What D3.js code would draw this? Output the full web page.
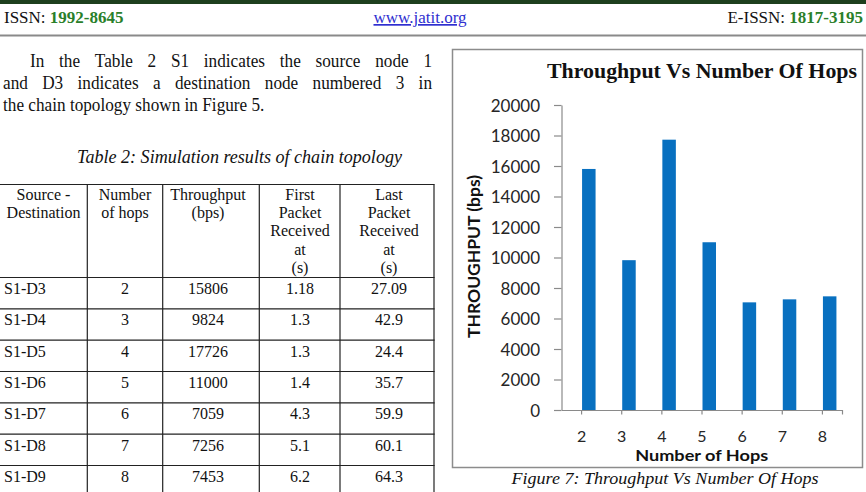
<!DOCTYPE html>
<html><head><meta charset="utf-8">
<script src="https://cdn.jsdelivr.net/npm/d3@7"></script>
<style>body{margin:0;background:#fff;overflow:hidden} svg{display:block}</style>
</head><body>
<svg id="page" width="866" height="492"></svg>
<script>
// ---------- data ----------
const pairs = ["S1-D3","S1-D4","S1-D5","S1-D6","S1-D7","S1-D8","S1-D9"];
const hops = ["2","3","4","5","6","7","8"];
const throughput = [15806, 9824, 17726, 11000, 7059, 7256, 7453];
const firstPacket = ["1.18","1.3","1.3","1.4","4.3","5.1","6.2"];
const lastPacket = ["27.09","42.9","24.4","35.7","59.9","60.1","64.3"];
const yTicks = [0,2000,4000,6000,8000,10000,12000,14000,16000,18000,20000];
const tableHeaders = [["Source -","Destination"],["Number","of hops"],["Throughput","(bps)"],
  ["First","Packet","Received","at","(s)"],["Last","Packet","Received","at","(s)"]];
const paragraph = ["In the Table 2 S1 indicates the source node 1",
  "and D3 indicates a destination node numbered 3 in",
  "the chain topology shown in Figure 5."];
const tableCaption = "Table 2: Simulation results of chain topology";
const chartTitle = "Throughput Vs Number Of Hops";
const figCaption = "Figure 7: Throughput Vs Number Of Hops";

const SERIF = "'Liberation Serif','Times New Roman',serif";
const SANS = "Lato,'Open Sans',sans-serif";
const svg = d3.select("#page");

// ---------- page header ----------
svg.append("rect").attr("x",0).attr("y",0).attr("width",866).attr("height",4).attr("fill","#1d3f1d");
const h1 = svg.append("text").attr("x",4).attr("y",23).attr("font-family",SERIF).attr("font-size",17);
h1.append("tspan").text("ISSN: ").attr("fill","#111");
h1.append("tspan").text("1992-8645").attr("font-weight","bold").attr("fill","#2a7f2a");
svg.append("text").attr("x",420).attr("y",23).attr("text-anchor","middle").attr("font-family",SERIF)
  .attr("font-size",17).attr("fill","#2f2fd0").attr("text-decoration","underline").text("www.jatit.org");
const h3 = svg.append("text").attr("x",863).attr("y",23).attr("text-anchor","end").attr("font-family",SERIF).attr("font-size",17);
h3.append("tspan").text("E-ISSN: ").attr("fill","#111");
h3.append("tspan").text("1817-3195").attr("font-weight","bold").attr("fill","#2a7f2a");
svg.append("line").attr("x1",0).attr("x2",866).attr("y1",35.5).attr("y2",35.5).attr("stroke","#8a8a8a").attr("stroke-width",2);

// ---------- paragraph (justified, slightly condensed like the scan) ----------
const PFS = 18.5, SQ = 0.93;
function measure(s){
  const t = svg.append("text").attr("font-family",SERIF).attr("font-size",PFS).text(s);
  const w = t.node().getComputedTextLength(); t.remove(); return w;
}
const spaceW = (measure("a a") - measure("aa"))*SQ;
const paraLines = [{x0:30,x1:432,y:67,just:true},{x0:3,x1:432,y:89,just:true},{x0:3,x1:432,y:111,just:false}];
paragraph.forEach((line,i)=>{
  const cfg = paraLines[i];
  const words = line.split(" ");
  const g = svg.append("g");
  const ws = words.map(w=>{
    const nat = measure(w)*SQ;
    const t = g.append("text").attr("font-family",SERIF).attr("font-size",PFS).attr("fill","#111").attr("y",cfg.y)
      .attr("textLength",nat).attr("lengthAdjust","spacingAndGlyphs").text(w);
    return {t, w: nat};
  });
  const total = d3.sum(ws,d=>d.w);
  const gap = cfg.just ? (cfg.x1-cfg.x0-total)/(words.length-1) : spaceW;
  let x = cfg.x0;
  ws.forEach(d=>{ d.t.attr("x",x); x += d.w + gap; });
});

svg.append("text").attr("x",239.5).attr("y",163).attr("text-anchor","middle").attr("font-family",SERIF)
  .attr("font-size",18.5).attr("font-style","italic").attr("fill","#111")
  .attr("textLength",325).attr("lengthAdjust","spacingAndGlyphs").text(tableCaption);

// ---------- table ----------
const colX = [0, 87.3, 162.7, 259.3, 340, 434];
const colCenters = [43.5, 125, 208, 300, 389];
const tTop = 184.5, headBottom = 277.5, rowH = 31.33;
const rowScale = d3.scaleLinear().domain([0, pairs.length]).range([headBottom, headBottom + rowH*pairs.length]);
const tbl = svg.append("g").attr("font-family",SERIF).attr("font-size",16).attr("fill","#111");
const hLines = [tTop].concat(d3.range(pairs.length+1).map(i=>rowScale(i)));
tbl.selectAll("line.h").data(hLines).join("line").attr("x1",0).attr("x2",colX[5]+0.6)
  .attr("y1",d=>d).attr("y2",d=>d).attr("stroke","#222").attr("stroke-width",1.2);
tbl.selectAll("line.v").data(colX.slice(1)).join("line").attr("x1",d=>d).attr("x2",d=>d)
  .attr("y1",tTop).attr("y2",rowScale(pairs.length)).attr("stroke","#222").attr("stroke-width",1.2);
tableHeaders.forEach((lines,c)=>{
  lines.forEach((s,k)=>{
    tbl.append("text").attr("x",colCenters[c]).attr("y",200+k*18.2).attr("text-anchor","middle").text(s);
  });
});
const rows = pairs.map((p,i)=>[p, hops[i], String(throughput[i]), firstPacket[i], lastPacket[i]]);
rows.forEach((r,i)=>{
  r.forEach((s,c)=>{
    tbl.append("text").attr("x", c===0 ? 4 : colCenters[c]).attr("y", rowScale(i)+16.5)
      .attr("text-anchor", c===0 ? "start" : "middle").text(s);
  });
});

// ---------- chart ----------
svg.append("rect").attr("x",452.5).attr("y",49.5).attr("width",410).attr("height",418)
  .attr("fill","#fff").attr("stroke","#8c8c8c").attr("stroke-width",1.5);

const x = d3.scaleBand().domain(hops).range([561.5, 842.5]);
const y = d3.scaleLinear().domain([0, 20000]).range([410, 105]);
const axisColor = "#8a8a8a";

svg.append("text").attr("x",702).attr("y",78.3).attr("text-anchor","middle").attr("font-family",SERIF)
  .attr("font-weight","bold").attr("font-size",22).attr("fill","#111")
  .attr("textLength",310).attr("lengthAdjust","spacingAndGlyphs").text(chartTitle);

// bars
svg.append("g").selectAll("rect").data(hops).join("rect")
  .attr("x",(d)=>x(d)+x.bandwidth()/2+0.5)
  .attr("width",13.5)
  .attr("y",(d,i)=>y(throughput[i]))
  .attr("height",(d,i)=>y(0)-y(throughput[i]))
  .attr("fill","#0870c0");

// y axis
const gy = svg.append("g").attr("transform","translate(561.5,0)")
  .call(d3.axisLeft(y).tickValues(yTicks).tickSizeInner(7.5).tickSizeOuter(0).tickPadding(14).tickFormat(d3.format("d")));
gy.select(".domain").attr("stroke",axisColor).attr("stroke-width",1.2);
gy.selectAll(".tick line").attr("stroke",axisColor).attr("stroke-width",1.2);
gy.selectAll("text").attr("font-family",SANS).attr("font-size",17).attr("fill","#262626").attr("dy","0.36em");

// x axis
const gx = svg.append("g").attr("transform","translate(0,410)")
  .call(d3.axisBottom(x).tickSizeInner(4.5).tickSizeOuter(0).tickPadding(8));
gx.select(".domain").attr("stroke",axisColor).attr("stroke-width",1.2);
gx.selectAll(".tick line").attr("stroke",axisColor).attr("stroke-width",1.2);
gx.selectAll("text").attr("font-family",SANS).attr("font-size",16).attr("fill","#262626").attr("y",31.5).attr("dy",0);
gx.append("line").attr("x1",x.range()[1]).attr("x2",x.range()[1]).attr("y1",0).attr("y2",4.5)
  .attr("stroke",axisColor).attr("stroke-width",1.2);

// axis titles
svg.append("text").attr("transform","translate(479.5,256.5) rotate(-90)").attr("text-anchor","middle")
  .attr("font-family",SANS).attr("font-weight","bold").attr("font-size",17).attr("fill","#111")
  .attr("textLength",163).attr("lengthAdjust","spacingAndGlyphs").text("THROUGHPUT (bps)");
svg.append("text").attr("x",701.7).attr("y",461).attr("text-anchor","middle")
  .attr("font-family",SANS).attr("font-weight","bold").attr("font-size",16).attr("fill","#111")
  .attr("textLength",133).attr("lengthAdjust","spacingAndGlyphs").text("Number of Hops");

svg.append("text").attr("x",665).attr("y",484).attr("text-anchor","middle").attr("font-family",SERIF)
  .attr("font-style","italic").attr("font-size",17).attr("fill","#111")
  .attr("textLength",307).attr("lengthAdjust","spacingAndGlyphs").text(figCaption);
</script>
</body></html>
